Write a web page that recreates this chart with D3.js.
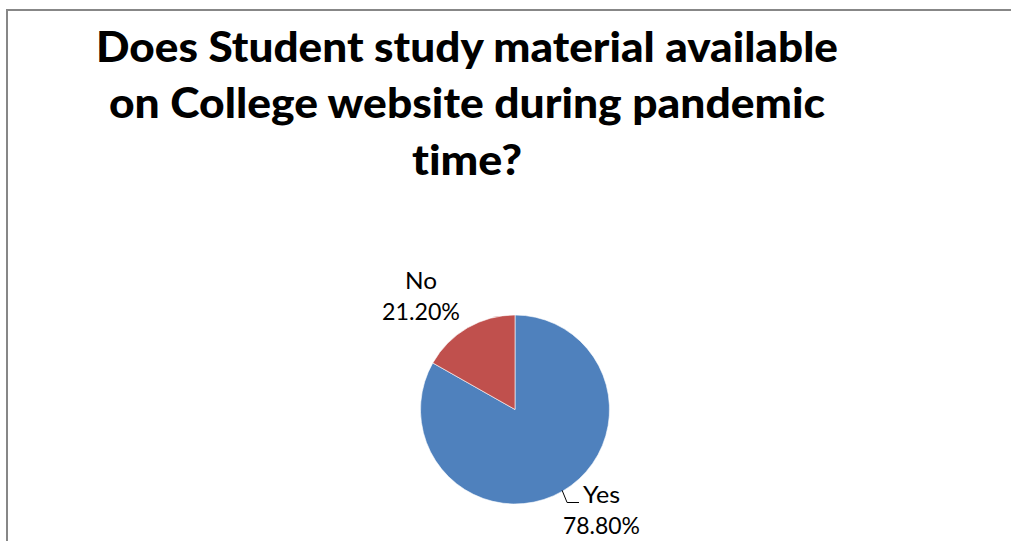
<!DOCTYPE html>
<html>
<head>
<meta charset="utf-8">
<script src="https://cdn.jsdelivr.net/npm/d3@7"></script>
<style>
  html, body { margin: 0; padding: 0; background: #fff; }
  svg { display: block; }
  text { font-variant-ligatures: none; }
</style>
</head>
<body>
<svg id="chart" width="1011" height="541"></svg>
<script>
// ---- data ----
const titleLines = ["Does Student study material available", "on College website during pandemic", "time?"];
const categories = ["Yes", "No"];
// slice sizes as drawn in the picture
const sliceValues = [83.2, 16.8];
// data label texts as printed
const percentLabels = ["78.80%", "21.20%"];
const colors = ["#4F81BD", "#C0504D"];

// ---- layout ----
const svg = d3.select("#chart");
const font = "Lato, 'Open Sans', 'Liberation Sans', sans-serif";

// chart border (right/bottom edges lie outside the picture)
svg.append("rect")
  .attr("x", 7).attr("y", 10)
  .attr("width", 1200).attr("height", 1000)
  .attr("fill", "#fff")
  .attr("stroke", "#878787").attr("stroke-width", 2);

// title
const titleCx = 467;
const titleBase = [62, 118, 175];
const titleWidths = [742, 716, 110];
const tg = svg.append("g");
titleLines.forEach((t, i) => {
  tg.append("text")
    .attr("x", titleCx).attr("y", titleBase[i])
    .attr("text-anchor", "middle")
    .attr("font-family", font).attr("font-weight", 900)
    .attr("font-size", 42)
    .attr("fill", "#000")
    .attr("textLength", titleWidths[i])
    .attr("lengthAdjust", "spacingAndGlyphs")
    .text(t);
});

// pie
const cx = 515, cy = 409.5, r = 94.5;
const pie = d3.pie().sort(null).value(d => d)(sliceValues);
const arc = d3.arc().innerRadius(0).outerRadius(r);
const g = svg.append("g").attr("transform", `translate(${cx},${cy})`);
g.selectAll("path.slice").data(pie).join("path")
  .attr("class", "slice")
  .attr("d", arc)
  .attr("fill", (d, i) => colors[i])
  .attr("stroke", "#ffffff").attr("stroke-width", 0.6);

// data labels (offsets relative to pie centre)
const labelPos = [
  { x: 601.5 - cx, y: 503 - cy, w1: 37, w2: 77 },
  { x: 421 - cx, y: 289 - cy, w1: 32, w2: 78 }
];
const lineGap = 30.5;
pie.forEach((d, i) => {
  const p = labelPos[i];
  g.append("text")
    .attr("x", p.x).attr("y", p.y)
    .attr("text-anchor", "middle")
    .attr("font-family", font).attr("font-size", 24)
    .attr("fill", "#000")
    .attr("textLength", p.w1).attr("lengthAdjust", "spacingAndGlyphs")
    .text(categories[i]);
  g.append("text")
    .attr("x", p.x).attr("y", p.y + lineGap)
    .attr("text-anchor", "middle")
    .attr("font-family", font).attr("font-size", 24)
    .attr("fill", "#000")
    .attr("textLength", p.w2).attr("lengthAdjust", "spacingAndGlyphs")
    .text(percentLabels[i]);
});

// leader line for the "Yes" label
{
  const d = pie[0];
  const a = (d.startAngle + d.endAngle) / 2;
  const sx = Math.sin(a) * (r - 1), sy = -Math.cos(a) * (r - 1);
  const p = labelPos[0];
  const endX = p.x - p.w1 / 2 - 4;
  const elbowY = p.y - 0.5;
  const elbowX = sx + 5;
  g.append("path")
    .attr("d", `M${sx},${sy} L${elbowX},${elbowY} L${endX},${elbowY}`)
    .attr("fill", "none").attr("stroke", "#000").attr("stroke-width", 1);
}
</script>
</body>
</html>
